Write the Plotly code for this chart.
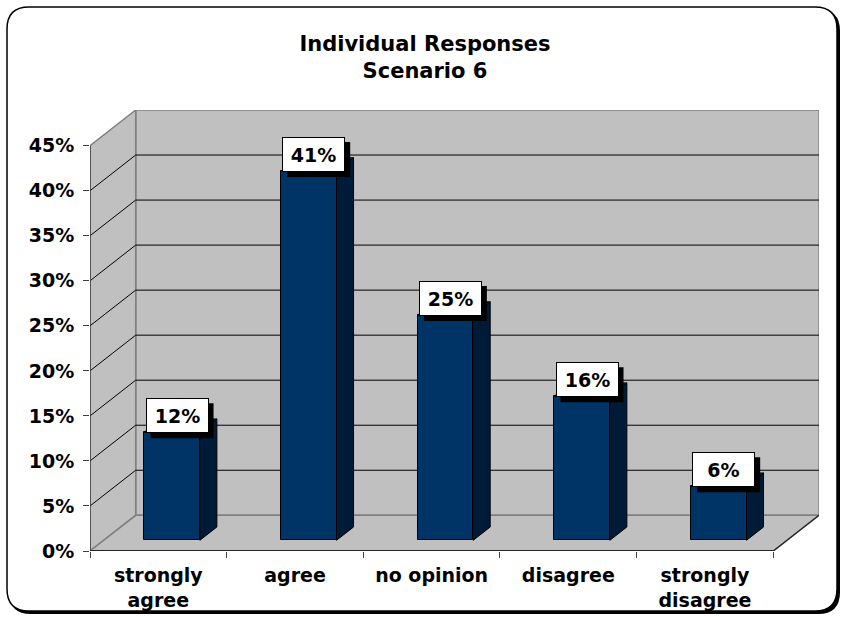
import plotly.graph_objects as go

# ---- data ----
categories = ["strongly<br>agree", "agree", "no opinion", "disagree", "strongly<br>disagree"]
values = [12, 41, 25, 16, 6]
y_ticks = [0, 5, 10, 15, 20, 25, 30, 35, 40, 45]
y_tick_labels = [f"{v}%" for v in y_ticks]
title_text = "Individual Responses<br>Scenario 6"

# ---- 3D-look geometry (axis units) ----
N = len(categories)
Y_MAX = 45
DEPTH_X = 0.3344      # back-wall offset in category units
DEPTH_Y = 3.964       # back-wall offset in percent units
F_FRONT = 0.30        # bar front face depth fraction
F_BACK = 0.672        # bar back face depth fraction
BAR_W = 0.4075

FRONT = "#003366"
SIDE = "#001B38"
TOP = "#003366"
WALL = "#C0C0C0"
EDGE = "#808080"
FONT = "DejaVu Sans"

W, H = 842, 617
ML, MR, MT, MB = 90, 23, 110, 66
PW, PH = W - ML - MR, H - MT - MB


def px(xp):
    return (xp - ML) / PW


def py(yp):
    return (H - MB - yp) / PH


def rounded_path(x0, y0, x1, y1, r):
    pts = [
        ("M", px(x0 + r), py(y0)),
        ("L", px(x1 - r), py(y0)),
        ("Q", px(x1), py(y0), px(x1), py(y0 + r)),
        ("L", px(x1), py(y1 - r)),
        ("Q", px(x1), py(y1), px(x1 - r), py(y1)),
        ("L", px(x0 + r), py(y1)),
        ("Q", px(x0), py(y1), px(x0), py(y1 - r)),
        ("L", px(x0), py(y0 + r)),
        ("Q", px(x0), py(y0), px(x0 + r), py(y0)),
    ]
    s = ""
    for p in pts:
        cmd = p[0]
        coords = p[1:]
        s += cmd + " " + " ".join(
            f"{coords[i]:.5f},{coords[i+1]:.5f}" for i in range(0, len(coords), 2)
        ) + " "
    return s + "Z"


shapes = []
# chart frame with shadow
shapes.append(dict(type="path", xref="paper", yref="paper", layer="below",
                   path=rounded_path(9, 9, 840, 614, 22),
                   fillcolor="black", line=dict(width=0)))
shapes.append(dict(type="path", xref="paper", yref="paper", layer="below",
                   path=rounded_path(7, 7, 837, 611, 22),
                   fillcolor="white", line=dict(color="black", width=1.5)))

# walls and floor
shapes.append(dict(type="rect", xref="x", yref="y", layer="below",
                   x0=DEPTH_X, x1=N + DEPTH_X, y0=DEPTH_Y, y1=Y_MAX + DEPTH_Y,
                   fillcolor=WALL, line=dict(color=EDGE, width=1.5)))
shapes.append(dict(type="path", xref="x", yref="y", layer="below",
                   path=f"M 0,0 L {DEPTH_X},{DEPTH_Y} L {DEPTH_X},{Y_MAX + DEPTH_Y} L 0,{Y_MAX} Z",
                   fillcolor=WALL, line=dict(color=EDGE, width=1.5)))
shapes.append(dict(type="path", xref="x", yref="y", layer="below",
                   path=f"M 0,0 L {N},0 L {N + DEPTH_X},{DEPTH_Y} L {DEPTH_X},{DEPTH_Y} Z",
                   fillcolor=WALL, line=dict(color=EDGE, width=1.5)))
# gridlines
for v in y_ticks[1:-1]:
    shapes.append(dict(type="line", xref="x", yref="y", layer="below",
                       x0=DEPTH_X, x1=N + DEPTH_X, y0=v + DEPTH_Y, y1=v + DEPTH_Y,
                       line=dict(color="black", width=1)))
    shapes.append(dict(type="line", xref="x", yref="y", layer="below",
                       x0=0, x1=DEPTH_X, y0=v, y1=v + DEPTH_Y,
                       line=dict(color="black", width=1)))
# front axis lines and right floor edge
shapes.append(dict(type="line", xref="x", yref="y", layer="below",
                   x0=N, x1=N + DEPTH_X, y0=0, y1=DEPTH_Y, line=dict(color="#202020", width=1.2)))
shapes.append(dict(type="line", xref="x", yref="y", layer="below",
                   x0=0, x1=0, y0=0, y1=Y_MAX, line=dict(color="#404040", width=1.5)))
shapes.append(dict(type="line", xref="x", yref="y", layer="below",
                   x0=0, x1=N, y0=0, y1=0, line=dict(color="black", width=1.5)))

fig = go.Figure()

centers = [i + 0.5 + F_FRONT * DEPTH_X for i in range(N)]
base = F_FRONT * DEPTH_Y
ddx = (F_BACK - F_FRONT) * DEPTH_X
ddy = (F_BACK - F_FRONT) * DEPTH_Y

# front faces
fig.add_trace(go.Bar(x=centers, y=values, base=[base] * N, width=BAR_W,
                     marker=dict(color=FRONT, line=dict(color="black", width=1)),
                     hoverinfo="skip", showlegend=False))

# side and top faces
for c, v in zip(centers, values):
    xr = c + BAR_W / 2
    xl = c - BAR_W / 2
    fig.add_trace(go.Scatter(
        x=[xr, xr + ddx, xr + ddx, xr, xr],
        y=[base, base + ddy, base + v + ddy, base + v, base],
        mode="lines", fill="toself", fillcolor=SIDE,
        line=dict(color="black", width=1), hoverinfo="skip", showlegend=False))
    fig.add_trace(go.Scatter(
        x=[xl, xr, xr + ddx, xl + ddx, xl],
        y=[base + v, base + v, base + v + ddy, base + v + ddy, base + v],
        mode="lines", fill="toself", fillcolor=TOP,
        line=dict(color="black", width=1), hoverinfo="skip", showlegend=False))

# dummy trace for boundary tick axis
fig.add_trace(go.Scatter(x=[None], y=[None], xaxis="x2", showlegend=False, hoverinfo="skip"))

# data labels: white boxed annotations with a black drop-shadow shape
BOX_W, BOX_H = 63, 35
LBL_DX, LBL_DY = 5, -1
SH_OFF = 5
annotations = []
for c, v in zip(centers, values):
    shapes.append(dict(type="rect", layer="above", xref="x", yref="y",
                       xsizemode="pixel", ysizemode="pixel", xanchor=c, yanchor=base + v,
                       x0=LBL_DX + SH_OFF - BOX_W / 2, x1=LBL_DX + SH_OFF + BOX_W / 2,
                       y0=LBL_DY - SH_OFF, y1=LBL_DY - SH_OFF + BOX_H,
                       fillcolor="black", line=dict(width=0)))
    annotations.append(dict(x=c, y=base + v, xref="x", yref="y", xanchor="center",
                            yanchor="bottom", showarrow=False, text=f"{v}%",
                            width=BOX_W - 12, height=BOX_H - 12, borderpad=5,
                            borderwidth=1, bordercolor="black", bgcolor="white",
                            xshift=LBL_DX, yshift=LBL_DY,
                            font=dict(family=FONT, size=19, color="black", weight="bold")))

fig.update_layout(
    width=W, height=H,
    margin=dict(l=ML, r=MR, t=MT, b=MB, autoexpand=False),
    paper_bgcolor="white", plot_bgcolor="rgba(0,0,0,0)",
    title=dict(text=title_text, x=425 / W, xanchor="center", y=1 - 51 / H, yanchor="top",
               font=dict(family=FONT, size=21, color="black", weight="bold"),
               automargin=False),
    xaxis=dict(range=[0, N + DEPTH_X], tickvals=[i + 0.5 for i in range(N)],
               ticktext=categories, ticks="", showgrid=False, zeroline=False,
               showline=False, ticklabelstandoff=11, automargin=False,
               tickfont=dict(family=FONT, size=19, color="black", weight="bold")),
    xaxis2=dict(range=[0, N + DEPTH_X], overlaying="x", anchor="y", side="bottom",
                tickvals=list(range(N + 1)), ticks="outside", ticklen=6, tickwidth=1,
                tickcolor="#404040", showticklabels=False, showgrid=False,
                zeroline=False, showline=False, automargin=False),
    yaxis=dict(range=[0, Y_MAX + DEPTH_Y], tickvals=y_ticks, ticktext=y_tick_labels,
               ticks="outside", ticklen=6, tickwidth=1, tickcolor="#404040",
               showgrid=False, zeroline=False, showline=False, ticklabelstandoff=5,
               automargin=False,
               tickfont=dict(family=FONT, size=19, color="black", weight="bold")),
    shapes=shapes,
    annotations=annotations,
    bargap=0,
)

fig.write_html("out.html", config={"displayModeBar": False},
               post_script="document.body.style.margin='0px';")
